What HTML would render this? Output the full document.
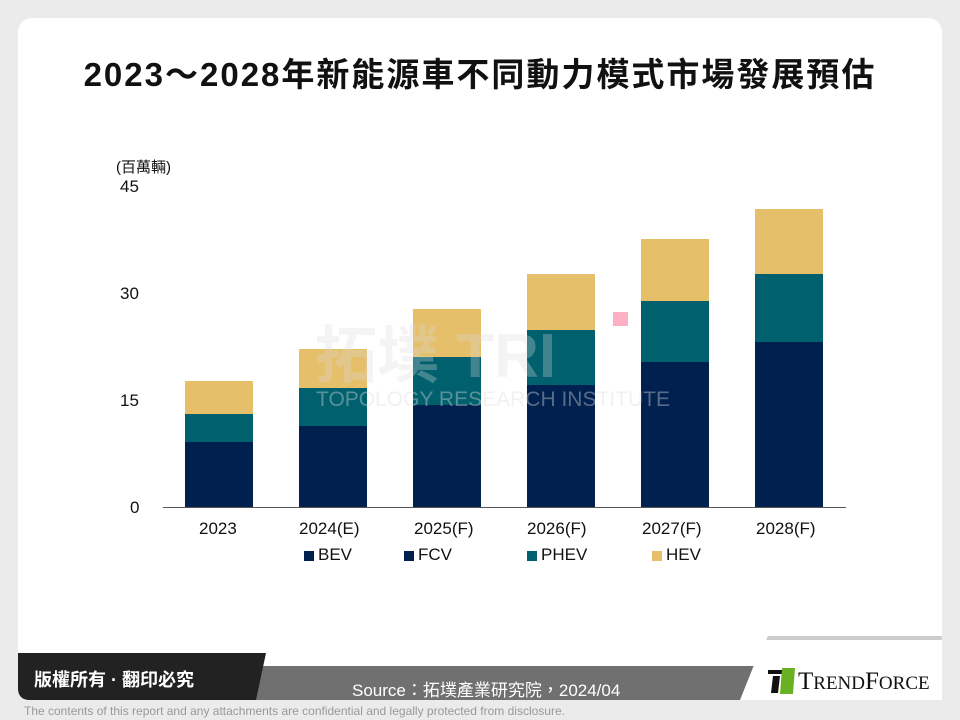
<!DOCTYPE html>
<html><head><meta charset="utf-8"><style>
body{margin:0;width:960px;height:720px;background:#ebebeb;position:relative;overflow:hidden;font-family:"Liberation Sans","Noto Sans CJK TC",sans-serif}
.card{position:absolute;left:18px;top:18px;width:924px;height:682px;background:#fff;border-radius:14px}
.t{position:absolute;left:0;width:960px;top:48px;text-align:center;font-size:33px;letter-spacing:2px;font-weight:bold;color:#111;font-family:"Liberation Sans","Noto Sans CJK TC",sans-serif}
.lab{position:absolute;font-size:17px;color:#111}
.bar{position:absolute;width:68px}
.b{background:#00204f}.p{background:#00606e}.h{background:#e5bf6a}
</style></head><body>
<div class="card"></div>
<div class="t">2023～2028年新能源車不同動力模式市場發展預估</div>
<div class="lab" style="left:116px;top:156px;font-size:15px">(百萬輛)</div>
<div class="lab" style="left:120px;top:177px">45</div>
<div class="lab" style="left:120px;top:284px">30</div>
<div class="lab" style="left:120px;top:391px">15</div>
<div class="lab" style="left:130px;top:498px">0</div>
<div style="position:absolute;left:163px;top:507px;width:683px;height:1px;background:#555"></div>
<div class="bar h" style="left:185px;top:381px;height:33px"></div><div class="bar p" style="left:185px;top:414px;height:28px"></div><div class="bar b" style="left:185px;top:442px;height:65px"></div>
<div class="bar h" style="left:299px;top:349px;height:39px"></div><div class="bar p" style="left:299px;top:388px;height:38px"></div><div class="bar b" style="left:299px;top:426px;height:81px"></div>
<div class="bar h" style="left:413px;top:309px;height:48px"></div><div class="bar p" style="left:413px;top:357px;height:48px"></div><div class="bar b" style="left:413px;top:405px;height:102px"></div>
<div class="bar h" style="left:527px;top:274px;height:56px"></div><div class="bar p" style="left:527px;top:330px;height:55px"></div><div class="bar b" style="left:527px;top:385px;height:122px"></div>
<div class="bar h" style="left:641px;top:239px;height:62px"></div><div class="bar p" style="left:641px;top:301px;height:61px"></div><div class="bar b" style="left:641px;top:362px;height:145px"></div>
<div class="bar h" style="left:755px;top:209px;height:65px"></div><div class="bar p" style="left:755px;top:274px;height:68px"></div><div class="bar b" style="left:755px;top:342px;height:165px"></div>
<div style="position:absolute;left:315px;top:305px;font-size:62px;font-weight:bold;color:rgba(220,220,220,0.3)">拓墣 TRI</div>
<div style="position:absolute;left:316px;top:388px;font-size:21px;color:rgba(220,220,220,0.4)">TOPOLOGY RESEARCH INSTITUTE</div>
<div style="position:absolute;left:613px;top:312px;width:15px;height:14px;background:#fdb0c4"></div>
<div class="lab" style="left:199px;top:519px">2023</div>
<div class="lab" style="left:299px;top:519px">2024(E)</div>
<div class="lab" style="left:414px;top:519px">2025(F)</div>
<div class="lab" style="left:527px;top:519px">2026(F)</div>
<div class="lab" style="left:642px;top:519px">2027(F)</div>
<div class="lab" style="left:756px;top:519px">2028(F)</div>
<div style="position:absolute;left:304px;top:551px;width:10px;height:10px;background:#00204f"></div><div class="lab" style="left:318px;top:545px">BEV</div>
<div style="position:absolute;left:404px;top:551px;width:10px;height:10px;background:#00204f"></div><div class="lab" style="left:418px;top:545px">FCV</div>
<div style="position:absolute;left:527px;top:551px;width:10px;height:10px;background:#00606e"></div><div class="lab" style="left:541px;top:545px">PHEV</div>
<div style="position:absolute;left:652px;top:551px;width:10px;height:10px;background:#e5bf6a"></div><div class="lab" style="left:666px;top:545px">HEV</div>
<svg style="position:absolute;left:0;top:0" width="960" height="720">
<polygon points="250,666 770,666 760,700 240,700" fill="#707070"/>
<polygon points="760,650 942,650 942,700 740,700" fill="#fff"/>
<polygon points="768,636 942,636 942,640 766,640" fill="#ccc"/>
<path d="M18,653 L266,653 L256,700 L30,700 Q18,700 18,688 Z" fill="#222"/>
<polygon points="768,670 790,670 789,674 768,674" fill="#111"/>
<polygon points="773,676 780,676 778,693 771,693" fill="#111"/>
<polygon points="782,668 795,668 793,694 780,694" fill="#6ab023"/>
</svg>
<div style="position:absolute;left:34px;top:666px;font-size:18px;font-weight:bold;color:#fff">版權所有 · 翻印必究</div>
<div style="position:absolute;left:352px;top:676px;font-size:17px;color:#fff">Source：拓墣產業研究院，2024/04</div>
<div style="position:absolute;left:798px;top:668px;font-size:25px;color:#111;font-family:'Liberation Serif',serif">T<span style="font-size:19px">REND</span>F<span style="font-size:19px">ORCE</span></div>
<div style="position:absolute;left:24px;top:704px;font-size:12px;color:#999">The contents of this report and any attachments are confidential and legally protected from disclosure.</div>
</body></html>
